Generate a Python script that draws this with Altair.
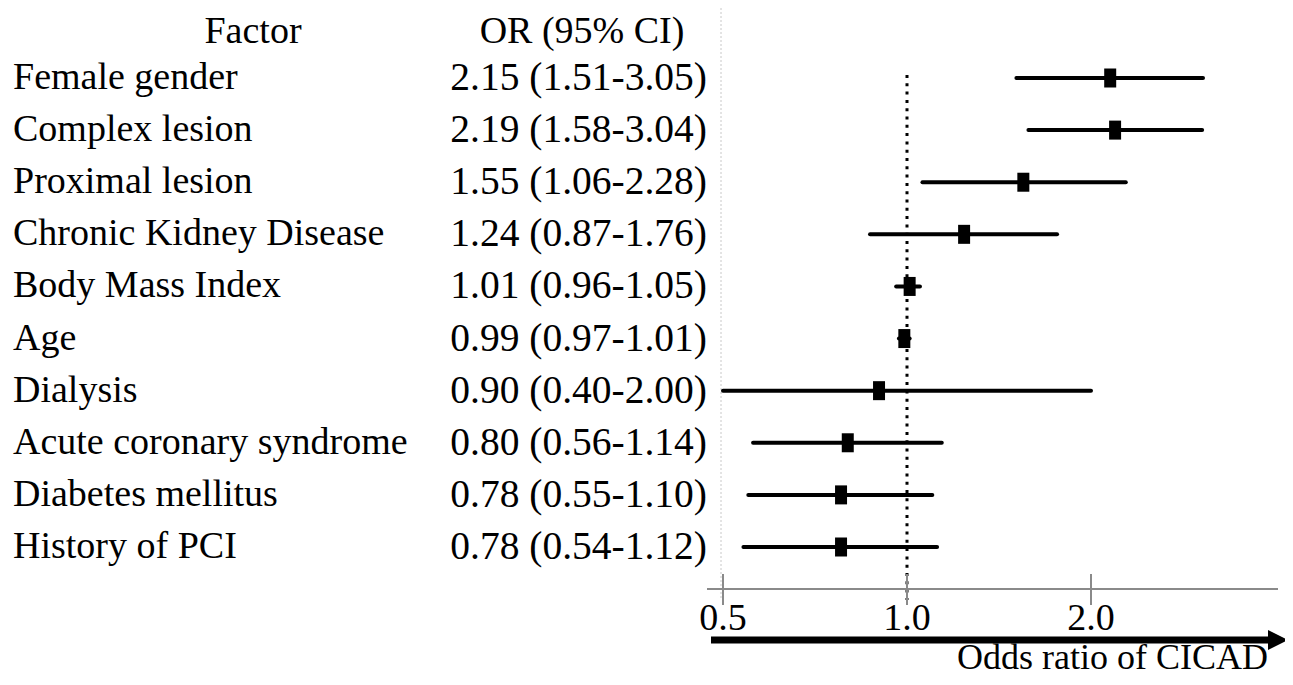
import math
import altair as alt
import pandas as pd

# ---------------- data ----------------
factors = ["Female gender", "Complex lesion", "Proximal lesion", "Chronic Kidney Disease",
           "Body Mass Index", "Age", "Dialysis", "Acute coronary syndrome",
           "Diabetes mellitus", "History of PCI"]
odds = [2.15, 2.19, 1.55, 1.24, 1.01, 0.99, 0.90, 0.80, 0.78, 0.78]
ci_low = [1.51, 1.58, 1.06, 0.87, 0.96, 0.97, 0.40, 0.56, 0.55, 0.54]
ci_high = [3.05, 3.04, 2.28, 1.76, 1.05, 1.01, 2.00, 1.14, 1.10, 1.12]
or_labels = ["2.15 (1.51-3.05)", "2.19 (1.58-3.04)", "1.55 (1.06-2.28)", "1.24 (0.87-1.76)",
             "1.01 (0.96-1.05)", "0.99 (0.97-1.01)", "0.90 (0.40-2.00)", "0.80 (0.56-1.14)",
             "0.78 (0.55-1.10)", "0.78 (0.54-1.12)"]
tick_values = [0.5, 1.0, 2.0]
tick_labels = ["0.5", "1.0", "2.0"]
reference_value = [1.0]
headers = ["Factor", "OR (95% CI)"]
x_title = "Odds ratio of CICAD"

# ---------------- layout ----------------
M = 8                     # page margin
W, H = 1293 - 2 * M, 685 - 2 * M
FONT = "Liberation Serif"
FS = 38
X_ONE = 907               # page x of OR = 1
PER_DOUBLING = 184
def px(v):
    return X_ONE + PER_DOUBLING * math.log2(v) - M

dom = [0.5, 3.6]
xscale = alt.Scale(type="log", domain=dom, range=[px(dom[0]), px(dom[1])], clamp=True)
yscale = alt.Scale(type="point", domain=factors, range=[78 - M, 547 - M], padding=0)

df = pd.DataFrame({"factor": factors, "or": odds, "lo": ci_low, "hi": ci_high, "lab": or_labels})
ticks = pd.DataFrame({"v": tick_values, "lab": tick_labels})
ref = pd.DataFrame({"v": reference_value})

X = lambda f: alt.X(f, type="quantitative", scale=xscale, axis=None)
Y = alt.Y("factor:N", scale=yscale, axis=None)

grey_guide = alt.Chart(ref).mark_rule(color="#c8c8c8", strokeWidth=1, strokeDash=[2, 2]).encode(
    x=alt.value(721 - M), y=alt.value(0), y2=alt.value(600 - M))

ref_line = alt.Chart(ref).mark_rule(color="black", strokeWidth=3, strokeDash=[3, 5.3]).encode(
    x=X("v"), y=alt.value(75 - M), y2=alt.value(600 - M))

ci = alt.Chart(df).mark_rule(color="black", strokeWidth=4, strokeCap="round").encode(
    x=X("lo"), x2="hi", y=Y)

pts = alt.Chart(df).mark_point(shape="M-0.6,-0.95L0.6,-0.95L0.6,0.95L-0.6,0.95Z",
                               filled=True, fill="black", opacity=1, size=400, strokeWidth=0).encode(
    x=X("or"), y=Y)

name_txt = alt.Chart(df).mark_text(align="left", baseline="middle", font=FONT, fontSize=FS,
                                   color="black").encode(
    x=alt.value(13 - M), y=Y, text="factor:N")

or_txt = alt.Chart(df).mark_text(align="right", baseline="middle", font=FONT, fontSize=39.5,
                                 color="black").encode(
    x=alt.value(707 - M), y=Y, text="lab:N")

hdr = pd.DataFrame({"h": headers})
hdr1 = alt.Chart(hdr.iloc[[0]]).mark_text(align="center", baseline="middle", font=FONT, fontSize=FS,
                                           color="black").encode(
    x=alt.value(253 - M), y=alt.value(32 - M), text="h:N")
hdr2 = alt.Chart(hdr.iloc[[1]]).mark_text(align="center", baseline="middle", font=FONT, fontSize=FS,
                                           color="black").encode(
    x=alt.value(582 - M), y=alt.value(32 - M), text="h:N")

axis_line = alt.Chart(ref).mark_rule(color="#8a8a8a", strokeWidth=2).encode(
    x=alt.value(707 - M), x2=alt.value(1278 - M), y=alt.value(589 - M))

tick_marks = alt.Chart(ticks).mark_rule(color="#8a8a8a", strokeWidth=2).encode(
    x=X("v"), y=alt.value(574 - M), y2=alt.value(605 - M))

tick_txt = alt.Chart(ticks).mark_text(align="center", baseline="middle", font=FONT, fontSize=FS,
                                      color="black").encode(
    x=X("v"), y=alt.value(619 - M), text="lab:N")

arrow_shaft = alt.Chart(ref).mark_rule(color="black", strokeWidth=7).encode(
    x=alt.value(711 - M), x2=alt.value(1270 - M), y=alt.value(640 - M))

arrow_head = alt.Chart(ref).mark_point(shape="M-1,-1L1,0L-1,1Z", filled=True, fill="black",
                                       opacity=1, size=400, strokeWidth=0).encode(
    x=alt.value(1278 - M), y=alt.value(640 - M))

title_txt = alt.Chart(pd.DataFrame({"t": [x_title]})).mark_text(
    align="right", baseline="alphabetic", font=FONT, fontSize=36, color="black").encode(
    x=alt.value(1268 - M), y=alt.value(669 - M), text="t:N")

chart = alt.layer(
    grey_guide, ref_line, axis_line, tick_marks, ci, pts, name_txt, or_txt, hdr1, hdr2,
    tick_txt, arrow_shaft, arrow_head, title_txt
).properties(
    width=W, height=H, padding=0, background="white",
    autosize=alt.AutoSizeParams(type="none")
).configure_view(stroke=None)

chart.save("out.html", embed_options={"renderer": "svg", "actions": False})
